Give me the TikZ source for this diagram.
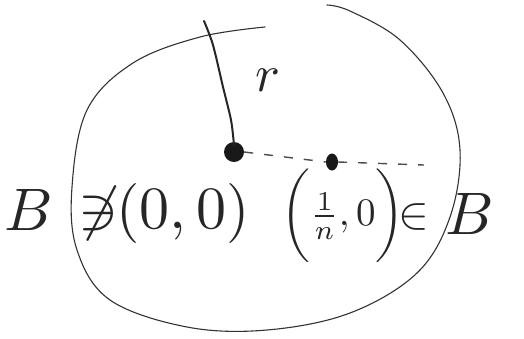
\documentclass[tikz,border=0pt]{standalone}
\usepackage{amsmath}
\usetikzlibrary{shapes.geometric}
\begin{document}
\begin{tikzpicture}[x=1pt,y=-1pt,
  pen/.style={draw=black!80,line width=1.1pt,line cap=round,line join=round},
  radius line/.style={draw=black!85,line width=2pt,line cap=round},
  dotted link/.style={draw=black!70,line width=1.4pt,dash pattern=on 9pt off 11pt},
  big/.style={inner sep=0pt,text=black!85,scale=#1,transform shape},
  big/.default=6,
  dotnode/.style={fill=black!90,inner sep=0pt}]
\useasboundingbox (0,0) rectangle (524,338);
\fill[white] (0,0) rectangle (524,338);
% the set B (open hand-drawn curve)
\draw[pen] plot[smooth,tension=0.6] coordinates {(265,27) (200,37) (133,63) (87,110) (72,187) (77,250) (110,300) (187,327) (267,330) (350,313) (417,273) (450,217) (460,150) (443,93) (400,40) (350,11) (327,5)};
% points
\node[dotnode,circle,minimum size=20pt] (o) at (234,152) {};
\node[dotnode,ellipse,minimum width=12pt,minimum height=17pt] (p) at (332,162) {};
\coordinate (top) at (204,21);
\coordinate (far) at (424,165);
% radius
\draw[radius line] plot[smooth] coordinates {(top) (213,45) (223,87) (231,120) (234,145)};
\node[big=5.2] (r) at (268,80) {$r$};
% dashed segment to the point and beyond
\draw[dotted link] (o.east) -- (p.west);
\draw[dotted link] (p.east) -- (far);
% labels
\node[big] (B1) at (29,210) {$B$};
\node[big] (notni) at (98,213) {$\not\ni$};
\node[big] (zero) at (183,213) {$(0,0)$};
\node[big=3.9] (pt) at (343,216) {$\biggl(\tfrac{1}{n},0\biggr)$};
\node[big=4.6] (in) at (414,217) {$\in$};
\node[big] (B2) at (470,214) {$B$};
\end{tikzpicture}
\end{document}
